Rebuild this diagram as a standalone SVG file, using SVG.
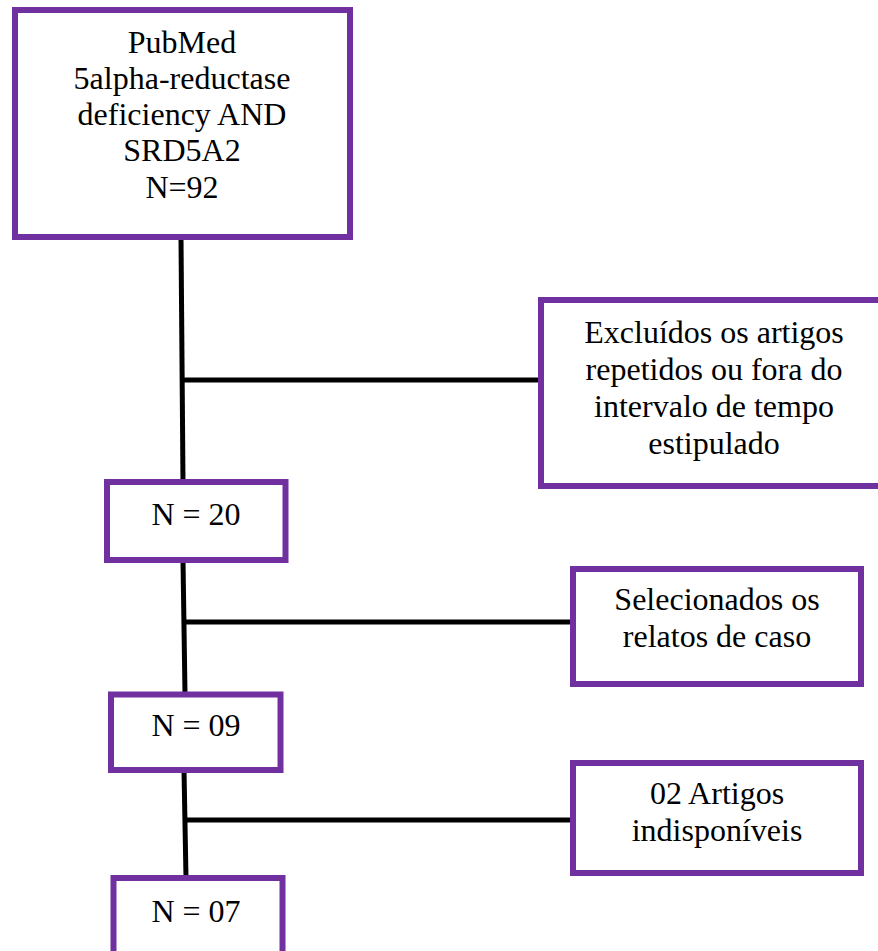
<svg xmlns="http://www.w3.org/2000/svg" width="878" height="951" viewBox="0 0 878 951">
<style>
.box{fill:#fff;stroke:#7030A0;stroke-width:6}
.ln{stroke:#000;stroke-width:5;fill:none}
text{font-family:"Liberation Serif","Times New Roman",serif;font-size:32px;fill:#000;text-anchor:middle}
</style>
<rect width="878" height="951" fill="#fff"/>
<g id="connectors">
<line class="ln" x1="181" y1="238" x2="183" y2="482"/>
<line class="ln" x1="182" y1="380" x2="541" y2="380"/>
<line class="ln" x1="183" y1="560" x2="185" y2="694"/>
<line class="ln" x1="184" y1="622" x2="573" y2="622"/>
<line class="ln" x1="184" y1="770" x2="186" y2="878"/>
<line class="ln" x1="185" y1="820" x2="573" y2="820"/>
</g>
<g id="n1">
<rect class="box" x="15" y="10" width="335" height="227"/>
<text x="182" y="53">PubMed</text>
<text x="182" y="89">5alpha-reductase</text>
<text x="182" y="125">deficiency AND</text>
<text x="182" y="161">SRD5A2</text>
<text x="182" y="198">N=92</text>
</g>
<g id="n2">
<rect class="box" x="541" y="300" width="346" height="186"/>
<text x="714" y="343">Excluídos os artigos</text>
<text x="714" y="380">repetidos ou fora do</text>
<text x="714" y="417">intervalo de tempo</text>
<text x="714" y="454">estipulado</text>
</g>
<g id="n3">
<rect class="box" x="107" y="482" width="178.5" height="78"/>
<text x="196" y="525">N = 20</text>
</g>
<g id="n4">
<rect class="box" x="573" y="569" width="288" height="115"/>
<text x="717" y="610">Selecionados os</text>
<text x="717" y="647">relatos de caso</text>
</g>
<g id="n5">
<rect class="box" x="111" y="694.5" width="169.5" height="75.5"/>
<text x="196" y="736">N = 09</text>
</g>
<g id="n6">
<rect class="box" x="573" y="763" width="288" height="110"/>
<text x="717" y="804">02 Artigos</text>
<text x="717" y="841">indisponíveis</text>
</g>
<g id="n7">
<rect class="box" x="113.5" y="878" width="169" height="100"/>
<text x="196" y="922">N = 07</text>
</g>
</svg>
